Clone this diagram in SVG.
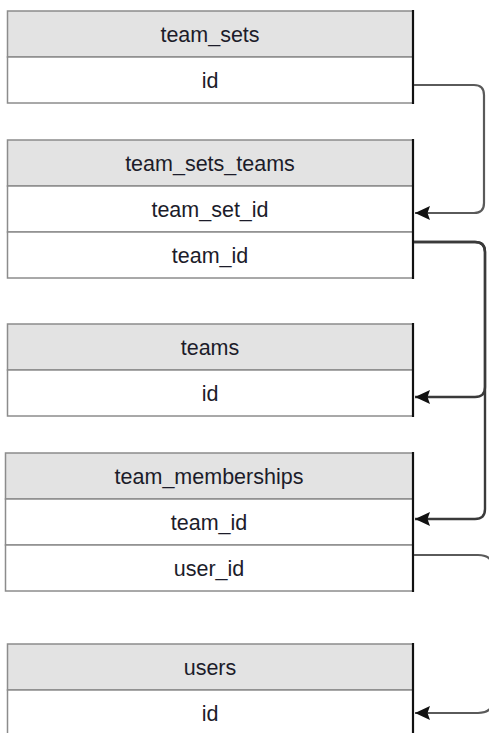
<svg xmlns="http://www.w3.org/2000/svg" width="489" height="733" viewBox="0 0 489 733">
<style>
.hd{fill:#e3e3e3;stroke:#8c8c8c;stroke-width:1.5}
.rw{fill:#ffffff;stroke:#8c8c8c;stroke-width:1.5}
.edge{stroke:#111;stroke-width:2.2}
text{font-family:"Liberation Sans",Arial,Helvetica,sans-serif;font-size:21.5px;fill:#1c1c2a;text-anchor:middle}
.cn{fill:none;stroke:#5a5a5a;stroke-width:2.2}
.cn2{fill:none;stroke:#3a3a3a;stroke-width:2.4}
</style>
<defs>
<marker id="arr" viewBox="0 0 15 14" refX="15" refY="7" markerWidth="15" markerHeight="14" markerUnits="userSpaceOnUse" orient="auto">
<path d="M0,0 L15,7 L0,14 L2.5,7 Z" fill="#111"/>
</marker>
</defs>
<g id="team_sets">
<rect class="hd" x="7.5" y="11" width="405.5" height="46"/>
<rect class="rw" x="7.5" y="57" width="405.5" height="46"/>
<line class="edge" x1="413" y1="10" x2="413" y2="104"/>
<text x="210" y="42">team_sets</text>
<text x="210" y="88">id</text>
</g>
<g id="team_sets_teams">
<rect class="hd" x="7.5" y="140" width="405.5" height="46"/>
<rect class="rw" x="7.5" y="186" width="405.5" height="46"/>
<rect class="rw" x="7.5" y="232" width="405.5" height="46"/>
<line class="edge" x1="413" y1="139" x2="413" y2="279"/>
<text x="210" y="171">team_sets_teams</text>
<text x="210" y="217">team_set_id</text>
<text x="210" y="263">team_id</text>
</g>
<g id="teams">
<rect class="hd" x="7.5" y="324" width="405.5" height="46"/>
<rect class="rw" x="7.5" y="370" width="405.5" height="46"/>
<line class="edge" x1="413" y1="323" x2="413" y2="417"/>
<text x="210" y="355">teams</text>
<text x="210" y="401">id</text>
</g>
<g id="team_memberships">
<rect class="hd" x="5.5" y="453" width="407.5" height="46"/>
<rect class="rw" x="5.5" y="499" width="407.5" height="46"/>
<rect class="rw" x="5.5" y="545" width="407.5" height="46"/>
<line class="edge" x1="413" y1="452" x2="413" y2="592"/>
<text x="209" y="484">team_memberships</text>
<text x="209" y="530">team_id</text>
<text x="209" y="576">user_id</text>
</g>
<g id="users">
<rect class="hd" x="7.5" y="644" width="405.5" height="46"/>
<rect class="rw" x="7.5" y="690" width="405.5" height="50"/>
<line class="edge" x1="413" y1="643" x2="413" y2="733"/>
<text x="210" y="675">users</text>
<text x="210" y="721">id</text>
</g>
<g id="connectors">
<path class="cn" d="M414,85 H474 Q484,85 484,95 V203 Q484,213 474,213 H415" marker-end="url(#arr)"/>
<path class="cn2" d="M414,242 H475 Q485,242 485,252 V387 Q485,397 475,397 H415" marker-end="url(#arr)"/>
<path class="cn2" d="M414,242 H475 Q485,242 485,252 V509 Q485,519 475,519 H415" marker-end="url(#arr)"/>
<path class="cn" d="M414,555 H478 Q494,555 494,571 V697 Q494,713 478,713 H415" marker-end="url(#arr)"/>
</g>
</svg>
